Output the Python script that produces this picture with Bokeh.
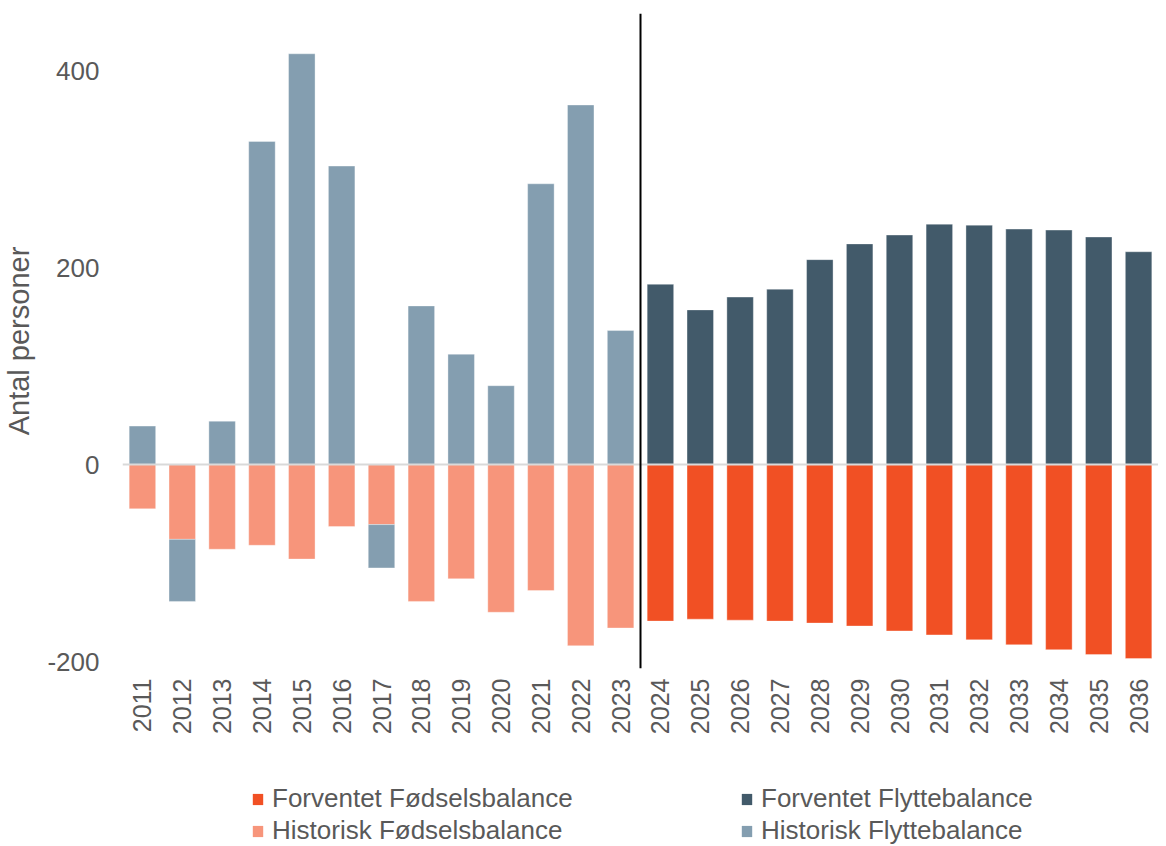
import numpy as np
from bokeh.plotting import figure
from bokeh.layouts import column
from bokeh.models import ColumnDataSource, FactorRange, Range1d, Span, Legend, LegendItem, FixedTicker
from bokeh.embed import file_html
from bokeh.resources import INLINE

hist_years = [str(y) for y in range(2011, 2024)]
fore_years = [str(y) for y in range(2024, 2037)]

hist_fodsel = [-45, -76, -86, -82, -96, -63, -61, -139, -116, -150, -128, -184, -166]
hist_flytte = [39, -63, 44, 328, 417, 303, -44, 161, 112, 80, 285, 365, 136]
fore_fodsel = [-159, -157, -158, -159, -161, -164, -169, -173, -178, -183, -188, -193, -197]
fore_flytte = [183, 157, 170, 178, 208, 224, 233, 244, 243, 239, 238, 231, 216]

y_ticks = [-200, 0, 200, 400]
legend_labels = ["Forventet Fødselsbalance", "Historisk Fødselsbalance",
                 "Forventet Flyttebalance", "Historisk Flyttebalance"]

C_FORE_FOD = "#F15024"
C_HIST_FOD = "#F7957B"
C_FORE_FLY = "#425A6A"
C_HIST_FLY = "#849EB0"
TXT = "#595959"
FONT = "Liberation Sans"

years = hist_years + fore_years

def stacks(fod, fly):
    fod = np.array(fod, dtype=float)
    fly = np.array(fly, dtype=float)
    fly_bottom = np.where(fly >= 0, 0.0, fod)
    fly_top = np.where(fly >= 0, fly, fod + fly)
    return fod, fly_bottom, fly_top

hf, hfb, hft = stacks(hist_fodsel, hist_flytte)
ff, ffb, fft = stacks(fore_fodsel, fore_flytte)

src_hist = ColumnDataSource(dict(x=hist_years, fod=hf, zero=np.zeros(len(hf)), flyb=hfb, flyt=hft))
src_fore = ColumnDataSource(dict(x=fore_years, fod=ff, zero=np.zeros(len(ff)), flyb=ffb, flyt=fft))

p = figure(width=1158, height=742, x_range=FactorRange(*years, range_padding=0),
           y_range=Range1d(-207.1, 457.9), output_backend="svg", toolbar_location=None,
           min_border_left=115, min_border_right=0, min_border_top=13, min_border_bottom=74)
p.outline_line_color = None
p.xgrid.visible = False
p.ygrid.visible = False

W = 0.665
bar_style = dict(width=W, line_color="white", line_alpha=0.35, line_width=1)
series = [  # (source, bottom, top, colour) in legend order
    (src_fore, "zero", "fod", C_FORE_FOD),
    (src_hist, "zero", "fod", C_HIST_FOD),
    (src_fore, "flyb", "flyt", C_FORE_FLY),
    (src_hist, "flyb", "flyt", C_HIST_FLY),
]
for src, b, t, c in series:
    p.vbar(x="x", bottom=b, top=t, source=src, fill_color=c, **bar_style)

p.add_layout(Span(location=0, dimension="width", line_color="#D9D9D9", line_width=2))
p.add_layout(Span(location=len(hist_years), dimension="height", line_color="black", line_width=2))

p.yaxis.ticker = FixedTicker(ticks=y_ticks)
p.yaxis.major_label_overrides = {t: str(t) for t in y_ticks}
p.yaxis.axis_label = "Antal personer"
p.yaxis.axis_label_text_font = FONT
p.yaxis.axis_label_text_font_size = "29px"
p.yaxis.axis_label_text_font_style = "normal"
p.yaxis.axis_label_text_color = TXT
p.yaxis.axis_label_standoff = 9
p.yaxis.major_label_text_font = FONT
p.yaxis.major_label_text_font_size = "26px"
p.yaxis.major_label_text_color = TXT
p.yaxis.major_label_standoff = 17

p.xaxis.major_label_orientation = np.pi / 2
p.xaxis.major_label_text_font = FONT
p.xaxis.major_label_text_font_size = "25px"
p.xaxis.major_label_text_color = TXT
p.xaxis.major_label_standoff = 4

for ax in (p.xaxis, p.yaxis):
    ax.axis_line_color = None
    ax.major_tick_line_color = None
    ax.minor_tick_line_color = None

# legend strip below the chart (same series, drawn out of view; only the legend shows)
pl = figure(width=1158, height=104, x_range=p.x_range, y_range=Range1d(10000, 10001),
            output_backend="svg", toolbar_location=None,
            x_axis_location=None, y_axis_location=None,
            min_border_left=0, min_border_right=0, min_border_top=0, min_border_bottom=0)
pl.outline_line_color = None
pl.xgrid.visible = False
pl.ygrid.visible = False
items = []
for lab, (src, b, t, c) in zip(legend_labels, series):
    r = pl.vbar(x="x", bottom=b, top=t, source=src, fill_color=c, width=W, line_color=None)
    items.append(LegendItem(label=lab, renderers=[r]))

legend = Legend(items=items, location=(129, 0), orientation="vertical", nrows=2,
                glyph_width=13, glyph_height=14, label_standoff=8, label_width=467,
                label_height=30, spacing=1, padding=0, margin=0,
                label_text_font=FONT, label_text_font_size="26px", label_text_color=TXT,
                border_line_color=None, background_fill_alpha=0)
pl.add_layout(legend, "center")

layout = column(p, pl, spacing=0)
open("out.html", "w").write(file_html(layout, INLINE))
